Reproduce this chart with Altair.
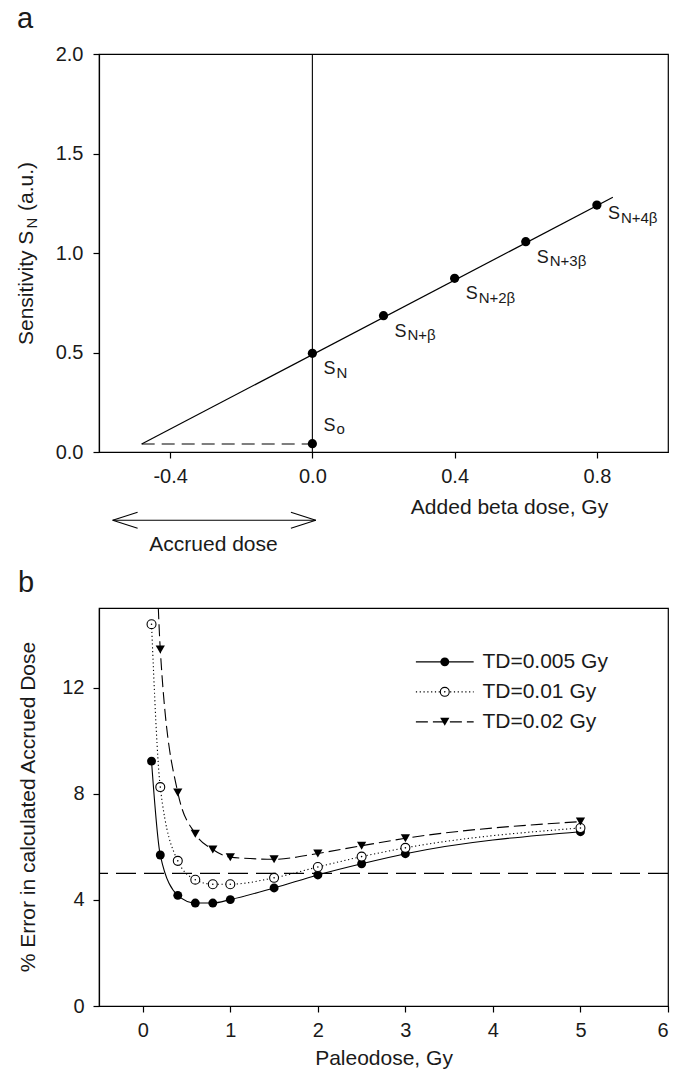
import altair as alt
import pandas as pd

# ---------------- Panel a data ----------------
a_dose = [0.0, 0.2, 0.4, 0.6, 0.8]
a_sens = [0.496, 0.685, 0.873, 1.057, 1.241]
a_sub = ["N", "N+β", "N+2β", "N+3β", "N+4β"]
s0_dose = [0.0]
s0_sens = [0.042]
fit_x = [-0.48, 0.845]
fit_y = [0.04, 1.28]
base_x = [-0.48, 0.0]
base_y = [0.04, 0.04]

# ---------------- Panel b data ----------------
paleo = [0.1, 0.2, 0.4, 0.6, 0.8, 1.0, 1.5, 2.0, 2.5, 3.0, 5.0]
err_005 = [9.23, 5.69, 4.17, 3.88, 3.88, 4.01, 4.45, 4.94, 5.36, 5.74, 6.57]
err_01 = [14.39, 8.25, 5.47, 4.76, 4.59, 4.59, 4.83, 5.24, 5.63, 5.96, 6.71]
err_02 = [24.0, 13.44, 8.05, 6.49, 5.90, 5.61, 5.53, 5.75, 6.04, 6.32, 6.95]
series_names = ["TD=0.005 Gy", "TD=0.01 Gy", "TD=0.02 Gy"]
threshold = [5.0]

FONT = "Liberation Sans"
INK = "#1a1a1a"
W, H = 569, 398

# ================= Panel a =================
xa_scale = alt.Scale(domain=[-0.6, 1.0], nice=False, zero=False)
ya_scale = alt.Scale(domain=[0, 2.0], nice=False, zero=False)

ax_a_x = alt.Axis(values=[-0.4, 0.0, 0.4, 0.8],
                  labelExpr="(datum.value < 0 ? '-' : '') + format(abs(datum.value), '.1f')",
                  title="Added beta dose, Gy", titleX=410, titleY=61,
                  titleBaseline="alphabetic", titleAlign="center", labelPadding=8)
ax_a_y = alt.Axis(values=[0, 0.5, 1.0, 1.5, 2.0], format=".1f", title=None, labelPadding=10)

def X(field):
    return alt.X(field, type="quantitative", scale=xa_scale, axis=ax_a_x)

def Y(field):
    return alt.Y(field, type="quantitative", scale=ya_scale, axis=ax_a_y)

fit_df = pd.DataFrame({"x": fit_x, "y": fit_y})
base_df = pd.DataFrame({"x": base_x, "y": base_y})
pts_df = pd.DataFrame({"x": a_dose + s0_dose, "y": a_sens + s0_sens,
                       "sub": a_sub + ["o"],
                       "grp": ["b", "b", "b", "b", "t", "s0"]})
one = pd.DataFrame({"k": [0]})

a_fit = alt.Chart(fit_df).mark_line(color="black", strokeWidth=1.2).encode(
    x=X("x:Q"), y=Y("y:Q"))
a_base = alt.Chart(base_df).mark_line(color="black", strokeWidth=1.1,
                                      strokeDash=[13, 7]).encode(x=X("x:Q"), y=Y("y:Q"))
a_vert = alt.Chart(one).mark_rule(color="black", strokeWidth=1.1).encode(
    x=X("v:Q"), y=alt.value(0), y2=alt.value(H)
).transform_calculate(v="0")
a_pts = alt.Chart(pts_df).mark_point(filled=True, color="black", size=85, opacity=1).encode(
    x=X("x:Q"), y=Y("y:Q"))

lab_layers = []
for grp, dy in [("b", 21), ("t", 14), ("s0", -13)]:
    base = alt.Chart(pts_df).transform_filter(alt.datum.grp == grp)
    lab_layers.append(base.mark_text(text="S", align="left", baseline="alphabetic",
                                     fontSize=18, dx=11, dy=dy, color=INK).encode(
        x=X("x:Q"), y=Y("y:Q")))
    lab_layers.append(base.mark_text(align="left", baseline="alphabetic",
                                     fontSize=15, dx=24, dy=dy + 3.5, color=INK).encode(
        x=X("x:Q"), y=Y("y:Q"), text="sub:N"))

# double arrow for "Accrued dose"
arr_y = -0.343
arr_l, arr_r = -0.5615, 0.0096
head_dx, head_dy = 0.070, 0.040
arrow_df = pd.DataFrame({
    "x": [arr_l, arr_l, arr_l, arr_r, arr_r],
    "x2": [arr_r, arr_l + head_dx, arr_l + head_dx, arr_r - head_dx, arr_r - head_dx],
    "y": [arr_y] * 5,
    "y2": [arr_y, arr_y + head_dy, arr_y - head_dy, arr_y + head_dy, arr_y - head_dy],
})
a_arrow = alt.Chart(arrow_df).mark_rule(color="black", strokeWidth=1.1).encode(
    x=X("x:Q"), x2="x2:Q", y=Y("y:Q"), y2="y2:Q")
acc_df = pd.DataFrame({"x": [-0.278], "y": [-0.4975], "t": ["Accrued dose"]})
a_acc = alt.Chart(acc_df).mark_text(align="center", baseline="alphabetic", fontSize=21,
                                    color=INK).encode(x=X("x:Q"), y=Y("y:Q"), text="t:N")

# y title with subscript (pieces)
a_yt1 = alt.Chart(one).mark_text(text="Sensitivity S", angle=270, align="left",
                                 baseline="alphabetic", fontSize=21, color=INK).encode(
    x=alt.value(-66), y=alt.value(291))
a_yt2 = alt.Chart(one).mark_text(text="N", angle=270, align="left",
                                 baseline="alphabetic", fontSize=15, color=INK).encode(
    x=alt.value(-62.5), y=alt.value(174.5))
a_yt3 = alt.Chart(one).mark_text(text="(a.u.)", angle=270, align="left",
                                 baseline="alphabetic", fontSize=21, color=INK).encode(
    x=alt.value(-66), y=alt.value(157))
a_lab = alt.Chart(one).mark_text(text="a", align="left", baseline="alphabetic",
                                 fontSize=29, color=INK).encode(
    x=alt.value(-82), y=alt.value(-26))

panel_a = alt.layer(a_fit, a_base, a_vert, a_pts, *lab_layers, a_arrow, a_acc,
                    a_yt1, a_yt2, a_yt3, a_lab).properties(width=W, height=H)

# ================= Panel b =================
xb_scale = alt.Scale(domain=[-0.5, 6.0], nice=False, zero=False)
yb_scale = alt.Scale(domain=[0, 15.0], nice=False, zero=False)
ax_b_x = alt.Axis(values=[0, 1, 2, 3, 4, 5, 6], format="d", title="Paleodose, Gy",
                  titleY=58, titleBaseline="alphabetic", labelPadding=8)
ax_b_y = alt.Axis(values=[0, 4, 8, 12], format="d", title=None, labelPadding=9)

def XB(field):
    return alt.X(field, type="quantitative", scale=xb_scale, axis=ax_b_x)

def YB(field):
    return alt.Y(field, type="quantitative", scale=yb_scale, axis=ax_b_y)

rows = []
for name, vals in zip(series_names, [err_005, err_01, err_02]):
    for p, v in zip(paleo, vals):
        rows.append({"x": p, "y": v, "s": name})
ser_df = pd.DataFrame(rows)

dashes = {series_names[0]: None, series_names[1]: [1.2, 2.6], series_names[2]: [12, 5]}

b_layers = []
b_layers.append(alt.Chart(pd.DataFrame({"y": threshold})).mark_rule(
    color="black", strokeWidth=1.1, strokeDash=[20, 8]).encode(y=YB("y:Q")))

leg_x1, leg_x2, leg_xm, leg_xt = 3.12, 3.78, 3.45, 3.88
leg_y = [12.97, 11.84, 10.71]
leg_df = pd.DataFrame({"s": series_names, "y": leg_y,
                       "x1": [leg_x1] * 3, "x2": [leg_x2] * 3, "xm": [leg_xm] * 3,
                       "xt": [leg_xt] * 3})

def markers(df_chart, name, xf, yf):
    if name == series_names[0]:
        return [df_chart.mark_point(shape="circle", filled=True, color="black", size=80,
                                    opacity=1, clip=True).encode(x=XB(xf), y=YB(yf))]
    if name == series_names[1]:
        return [df_chart.mark_point(shape="circle", filled=True, fill="white", stroke="black",
                                    strokeWidth=1.1, size=80, opacity=1, clip=True).encode(
                    x=XB(xf), y=YB(yf)),
                df_chart.mark_point(shape="circle", filled=True, color="black", size=2.5,
                                    opacity=1, clip=True).encode(x=XB(xf), y=YB(yf))]
    return [df_chart.mark_point(shape="triangle-down", filled=True, color="black", size=85,
                                opacity=1, clip=True).encode(x=XB(xf), y=YB(yf))]

for name in series_names:
    base = alt.Chart(ser_df).transform_filter(alt.datum.s == name)
    kw = dict(color="black", strokeWidth=1.1, interpolate="monotone", clip=True)
    if dashes[name]:
        kw["strokeDash"] = dashes[name]
    b_layers.append(base.mark_line(**kw).encode(x=XB("x:Q"), y=YB("y:Q")))
    b_layers.extend(markers(base, name, "x:Q", "y:Q"))
    # legend entry
    lb = alt.Chart(leg_df).transform_filter(alt.datum.s == name)
    rkw = dict(color="black", strokeWidth=1.1)
    if dashes[name]:
        rkw["strokeDash"] = dashes[name]
    b_layers.append(lb.mark_rule(**rkw).encode(x=XB("x1:Q"), x2="x2:Q", y=YB("y:Q")))
    b_layers.extend(markers(lb, name, "xm:Q", "y:Q"))
    b_layers.append(lb.mark_text(align="left", baseline="middle", fontSize=21,
                                 color=INK).encode(x=XB("xt:Q"), y=YB("y:Q"), text="s:N"))

b_layers.append(alt.Chart(one).mark_text(
    text="% Error in calculated Accrued Dose", angle=270, align="center",
    baseline="alphabetic", fontSize=21, color=INK).encode(x=alt.value(-64), y=alt.value(H / 2)))
b_layers.append(alt.Chart(one).mark_text(text="b", align="left", baseline="alphabetic",
                                         fontSize=29, color=INK).encode(
    x=alt.value(-81), y=alt.value(-16)))

panel_b = alt.layer(*b_layers).properties(width=W, height=H)

chart = alt.vconcat(panel_a, panel_b, spacing=156, bounds="flush").properties(
    padding={"left": 15, "top": 4, "right": 5, "bottom": 0}
).configure_view(stroke="black", strokeWidth=1.2).configure_axis(
    grid=False, domainColor="black", tickColor="black", labelColor=INK, titleColor=INK,
    labelFont=FONT, titleFont=FONT, labelFontSize=20, titleFontSize=21,
    titleFontWeight="normal", tickSize=6, domainWidth=1.2, tickWidth=1.2
).configure_text(font=FONT)

chart.save("out.html", embed_options={"renderer": "svg", "actions": False})
